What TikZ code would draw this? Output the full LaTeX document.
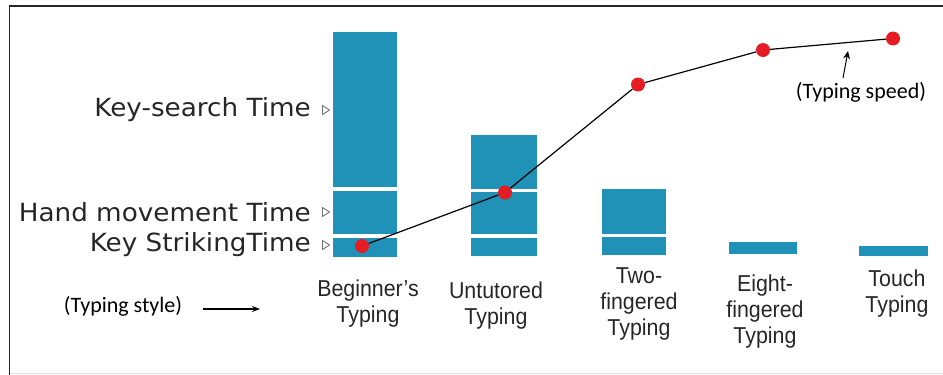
\documentclass[tikz,border=0pt]{standalone}
\usepackage{fontspec}
\setmainfont{Liberation Sans}
\newfontfamily\gauche[FakeStretch=1.05]{DejaVu Sans}
\newfontfamily\etroit[FakeStretch=0.93]{Liberation Sans}
\newfontfamily\calib{Carlito}
\usetikzlibrary{arrows.meta}
\definecolor{barre}{RGB}{32,146,184}
\definecolor{rouge}{RGB}{230,28,36}
\tikzset{
  temps/.style={anchor=east, inner sep=0pt, text=black!85, font=\gauche\fontsize{25}{28}\selectfont},
  mode/.style={align=center, inner sep=0pt, text=black!85, font=\etroit\fontsize{23}{26}\selectfont},
  note/.style={inner sep=0pt, font=\calib\fontsize{22}{24}\selectfont},
  vitesse/.style={circle, fill=rouge, inner sep=0pt, minimum size=14pt},
  repere/.style={draw=black!55, line width=0.9pt, fill=white, line join=round}
}

\begin{document}
\begin{tikzpicture}[x=1pt, y=-1pt]
    \useasboundingbox (0,0) rectangle (943,375);

        % Le cadre
        \draw[line width=1.5pt, black!85] (9.5,375) -- (9.5,6) -- (943,6);
        \draw[black!12] (9.5,373) -- (943,373);

        % Les barres (recherche, main, frappe)
        \fill[barre] (333,32) rectangle (397,187);
        \fill[barre] (333,191) rectangle (397,234);
        \fill[barre] (333,238) rectangle (397,257);

        \fill[barre] (471,135) rectangle (537,189);
        \fill[barre] (471,191.5) rectangle (537,234);
        \fill[barre] (471,238) rectangle (537,256);

        \fill[barre] (602,189) rectangle (666,234);
        \fill[barre] (602,236.5) rectangle (666,255);

        \fill[barre] (729,242) rectangle (797,254);
        \fill[barre] (859,246) rectangle (928,256);

        % Les temps à gauche
        \node[temps] (search) at (311,110) {Key-search Time};
        \node[temps] (hand) at (311,212) {Hand movement Time};
        \node[temps] (strike) at (311,245) {Key StrikingTime};
        \foreach \y in {110,212,245}
            \draw[repere] (322.5,\y-4.5) -- (329.5,\y) -- (322.5,\y+4.5) -- cycle;

        % Les styles de frappe
        \node[mode] (beginner) at (368,304) {Beginner’s\\Typing};
        \node[mode] (untutored) at (496,306) {Untutored\\Typing};
        \node[mode] (two) at (639,304) {Two-\\fingered\\Typing};
        \node[mode] (eight) at (765,312) {Eight-\\fingered\\Typing};
        \node[mode] (touch) at (897,294) {Touch\\Typing};

        \node[note] (style) at (123,306) {(Typing style)};
        \coordinate (bout) at (260,309);
        \draw[line width=1.3pt, -{Stealth[length=8pt, width=6pt]}] ([xshift=21pt]style.east |- bout) -- (bout);

        % La vitesse de frappe
        \node[vitesse] (p1) at (362,246) {};
        \node[vitesse] (p2) at (505,192.5) {};
        \node[vitesse] (p3) at (638,84.5) {};
        \node[vitesse] (p4) at (763,50) {};
        \node[vitesse] (p5) at (893,38.5) {};
        \draw[line width=1.2pt] (p1) -- (p2) -- (p3) -- (p4) -- (p5);

        \node[note] (speed) at (861,92) {(Typing speed)};
        \coordinate (queue) at (843,78);
        \coordinate (cible) at (848,51);
        \draw[line width=1pt, -{Stealth[length=8pt, width=7pt]}] (queue) -- (cible);

\end{tikzpicture}
\end{document}
